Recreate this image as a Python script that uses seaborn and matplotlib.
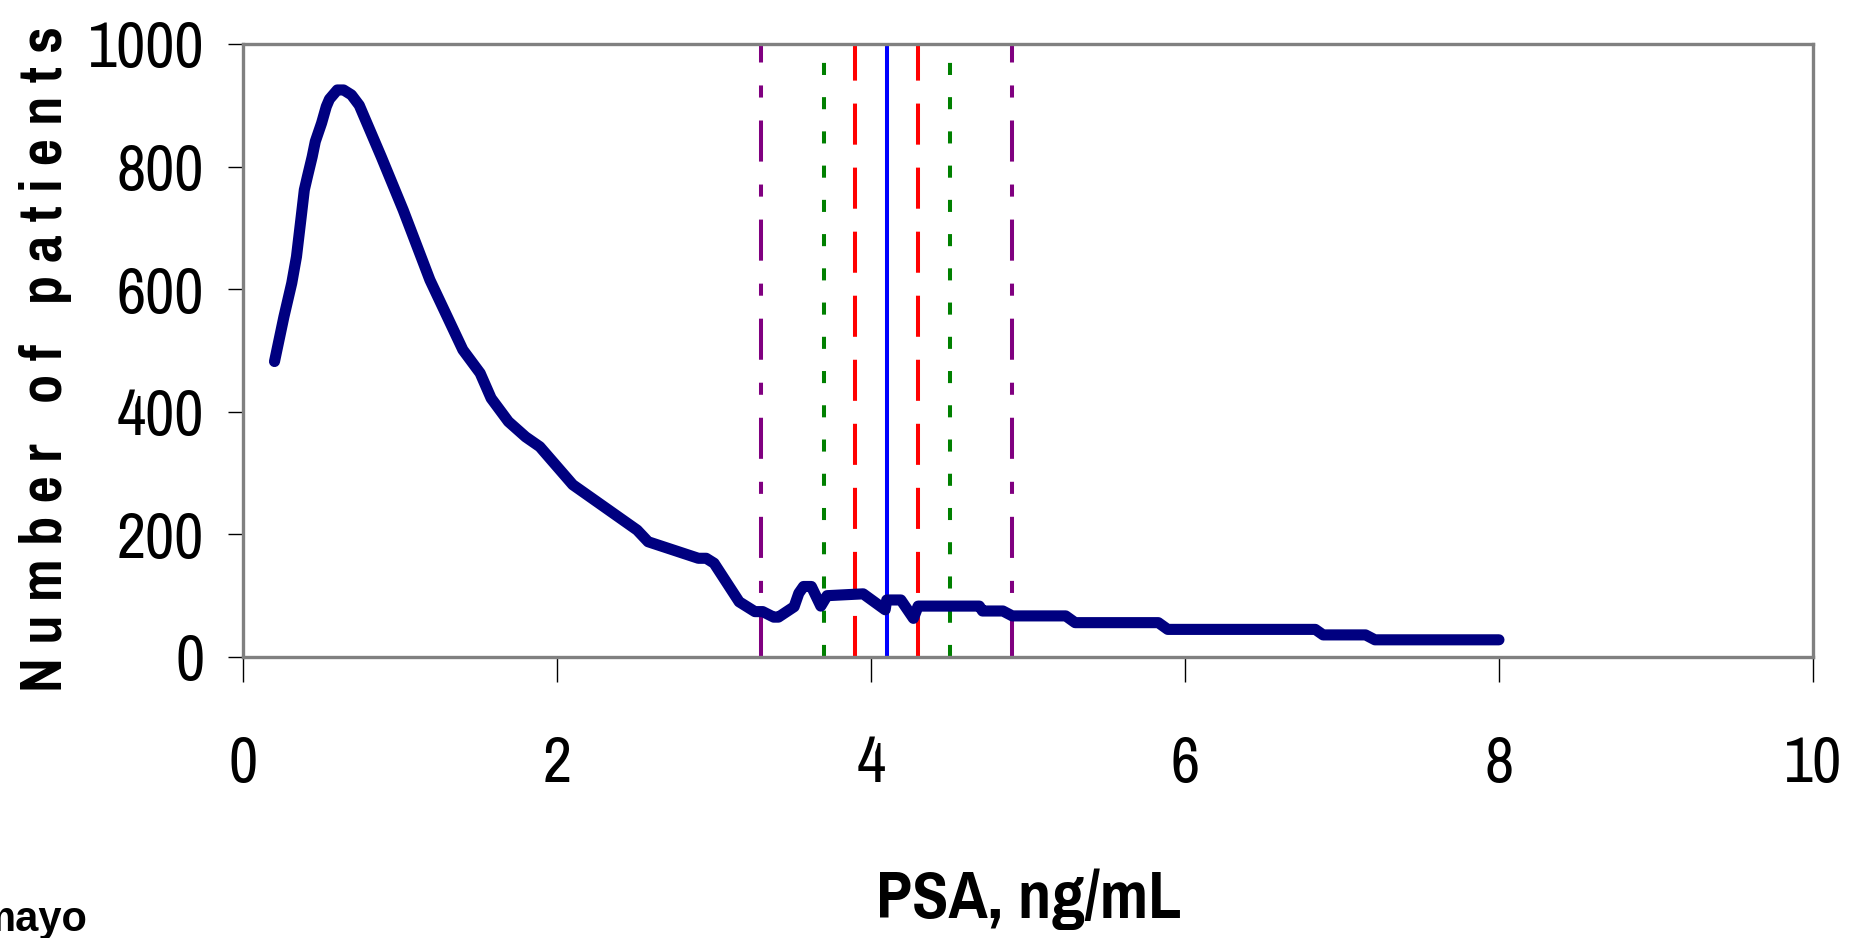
import matplotlib
matplotlib.use('Agg')
import matplotlib.pyplot as plt
import seaborn as sns

# PSA distribution
psa = [0.20, 0.26, 0.31, 0.34, 0.37, 0.39, 0.41, 0.44, 0.46, 0.50,
       0.53, 0.55, 0.60, 0.64, 0.69, 0.74, 0.88, 1.02, 1.19, 1.40,
       1.51, 1.58, 1.69, 1.80, 1.89, 2.10, 2.51, 2.58, 2.90, 2.95,
       3.00, 3.16, 3.26, 3.31, 3.38, 3.41, 3.51, 3.54, 3.57, 3.62,
       3.68, 3.72, 3.95, 4.09, 4.10, 4.19, 4.27, 4.30, 4.69, 4.71,
       4.84, 4.90, 5.24, 5.30, 5.83, 5.89, 6.83, 6.88, 7.15, 7.21,
       8.00]
patients = [482, 555, 610, 653, 718, 762, 784, 816, 841, 871,
            898, 910, 925, 925, 917, 900, 816, 729, 615, 501,
            463, 422, 384, 359, 343, 281, 207, 188, 161, 161,
            153, 90, 74, 74, 65, 65, 82, 104, 115, 115,
            83, 100, 103, 77, 93, 93, 63, 83, 83, 75,
            75, 67, 67, 56, 56, 45, 45, 36, 36, 28,
            28]

# cutoff lines around 4.1 ng/mL
cutoffs = [3.3, 3.7, 3.9, 4.1, 4.3, 4.5, 4.9]
cut_colors = ['#800080', '#008000', '#FF0000', '#0000FF', '#FF0000', '#008000', '#800080']
cut_styles = [(0, (10.2, 5.7, 3.0, 5.7)), (0, (3.0, 5.5)), (0, (10.2, 5.7)), '-',
              (0, (10.2, 5.7)), (0, (3.0, 5.5)), (0, (10.2, 5.7, 3.0, 5.7))]

xticks = [0, 2, 4, 6, 8, 10]
yticks = [0, 200, 400, 600, 800, 1000]

narrow = ['Liberation Sans Narrow', 'Arial Narrow', 'Nimbus Sans Narrow', 'Pragati Narrow',
          'Roboto Condensed', 'Archivo Narrow', 'IBM Plex Sans Condensed', 'DejaVu Sans']

sns.set_style('white')
plt.rcParams['font.family'] = narrow
plt.rcParams['text.color'] = 'black'

fig = plt.figure(figsize=(18.6, 9.38), dpi=100)
ax = fig.add_axes([0.1307, 0.2996, 0.8440, 0.6535])

for xc, c, ls in zip(cutoffs, cut_colors, cut_styles):
    ax.axvline(xc, color=c, linestyle=ls, linewidth=2.9, zorder=1)

sns.lineplot(x=psa, y=patients, ax=ax, color='#000080', linewidth=8,
             estimator=None, sort=False, zorder=3, solid_capstyle='round')

ax.set_xlim(0, 10)
ax.set_ylim(0, 1000)
ax.set_xticks(xticks)
ax.set_yticks(yticks)
ax.set_xticklabels([str(t) for t in xticks], fontsize=50, color='black')
ax.set_yticklabels([str(t) for t in yticks], fontsize=50, color='black')
ax.tick_params(axis='x', direction='out', length=18, width=1, color='black', pad=38, bottom=True)
ax.tick_params(axis='y', direction='out', length=11, width=1, color='black', pad=17, left=True)

for s in ax.spines.values():
    s.set_color('#808080')
    s.set_linewidth(2.4)
    s.set_visible(True)

fig.text(0.553, 0.041, 'PSA, ng/mL', fontsize=52, fontweight='bold', color='black',
         ha='center', va='center')
fig.text(0.0246, 0.617, 'N u m b e r   o f   p a t i e n t s', fontsize=46, fontweight='bold',
         color='black', rotation=90, ha='center', va='center')
fig.text(-0.012, 0.0075, 'mayo', fontsize=30, fontweight='heavy', color='black',
         family=['Liberation Sans', 'DejaVu Sans'], ha='left', va='baseline')

fig.savefig('out.png', dpi=100)
